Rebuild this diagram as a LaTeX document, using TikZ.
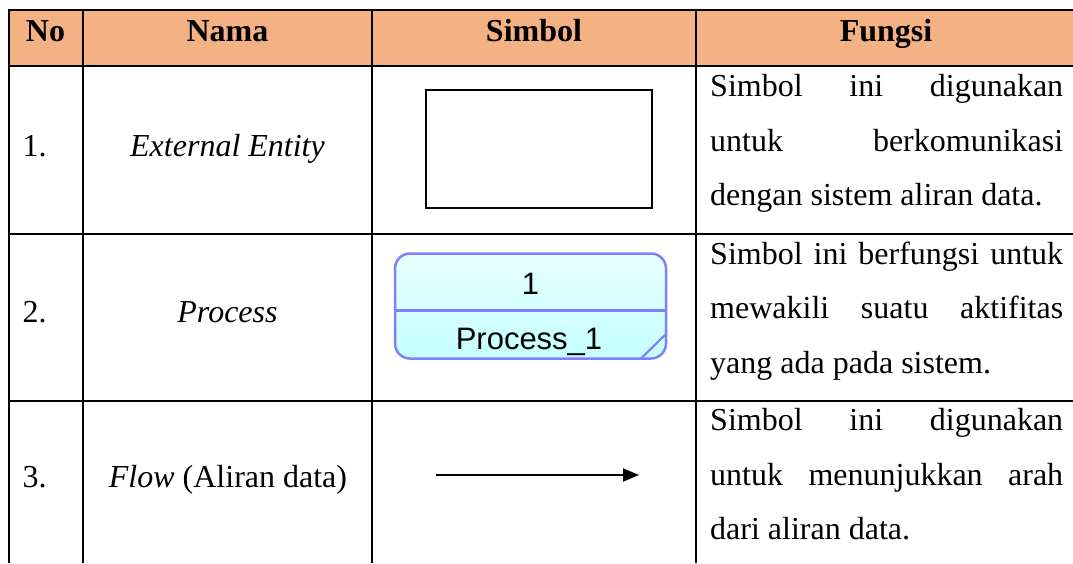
\documentclass[tikz,border=0pt]{standalone}
\usepackage{fontspec}
\setmainfont{Liberation Serif}
\newfontfamily\arialf{Liberation Sans}
\usetikzlibrary{arrows.meta}
\definecolor{hdr}{HTML}{F4B183}
\definecolor{procline}{RGB}{128,128,255}
\definecolor{proctop}{RGB}{232,255,255}
\definecolor{procbot}{RGB}{196,255,255}
\begin{document}
\begin{tikzpicture}[x=1pt,y=-1pt,
  grid/.style={line width=2pt,black},
  txt/.style={inner sep=0pt,font=\fontsize{32}{38}\selectfont},
  hd/.style={txt,anchor=base,font=\fontsize{32}{38}\selectfont\bfseries},
  cell/.style={txt,anchor=base},
  jline/.style={txt,anchor=base west},
  ptxt/.style={inner sep=0pt,anchor=base,font=\fontsize{31}{36}\arialf},
]
\useasboundingbox (0,0) rectangle (1073,563);
% header fill
\fill[hdr] (8.5,10) rectangle (1073,66);
% grid lines
\draw[grid] (7.5,10) -- (1073,10);
\foreach \yy in {66,234,401} \draw[grid] (8.5,\yy) -- (1073,\yy);
\foreach \xx in {8.5,83,372,696} \draw[grid] (\xx,10) -- (\xx,563);
% header
\node[hd] (hNo) at (45.5,41) {No};
\node[hd] (hNama) at (227.5,41) {Nama};
\node[hd] (hSimbol) at (534,41) {Simbol};
\node[hd] (hFungsi) at (886,41) {Fungsi};
% column No
\node[txt,anchor=base west] (n1) at (22.5,156) {1.};
\node[txt,anchor=base west] (n2) at (22.5,322) {2.};
\node[txt,anchor=base west] (n3) at (22.5,487) {3.};
% column Nama
\node[cell] (nm1) at (227.5,156) {\itshape External Entity};
\node[cell] (nm2) at (227.5,322) {\itshape Process};
\node[cell] (nm3) at (228,487) {\textit{Flow} (Aliran data)};
% symbol 1: external entity
\node[draw,line width=2pt,minimum width=226pt,minimum height=117.7pt,inner sep=0pt] (ent) at (538.7,148.85) {};
% symbol 2: process
\path[draw=procline,line width=2.5pt,rounded corners=15pt,top color=proctop,bottom color=procbot] (395,253.5) rectangle (666,358.5);
\coordinate (pdl) at (395,310.5);
\coordinate (pdr) at (666,310.5);
\draw[procline,line width=2.5pt] (pdl) -- (pdr);
\coordinate (fa) at (641,358.5);
\coordinate (fb) at (666,334);
\draw[procline,line width=2.2pt] (fa) -- (fb);
\node[ptxt] (pnum) at (530.5,294) {1};
\node[ptxt] (pname) at (529,349) {Process\_1};
% symbol 3: flow arrow
\coordinate (fs) at (436,475);
\coordinate (fe) at (639,475);
\draw[line width=2pt,-{Triangle[length=16pt,width=13pt]}] (fs) -- (fe);
% Fungsi column
\node[jline] (f11) at (710,96.5) {\makebox[353pt][s]{Simbol ini digunakan}};
\node[jline] (f12) at (710,151) {\makebox[353pt][s]{untuk berkomunikasi}};
\node[jline] (f13) at (710,205.5) {dengan sistem aliran data.};
\node[jline] (f21) at (710,264) {\makebox[353pt][s]{Simbol ini berfungsi untuk}};
\node[jline] (f22) at (710,318.5) {\makebox[353pt][s]{mewakili suatu aktifitas}};
\node[jline] (f23) at (710,373) {yang ada pada sistem.};
\node[jline] (f31) at (710,430.5) {\makebox[353pt][s]{Simbol ini digunakan}};
\node[jline] (f32) at (710,485) {\makebox[353pt][s]{untuk menunjukkan arah}};
\node[jline] (f33) at (710,539) {dari aliran data.};
\end{tikzpicture}
\end{document}
